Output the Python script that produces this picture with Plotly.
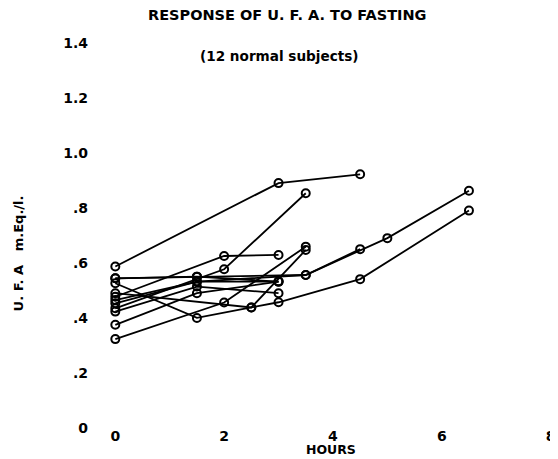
import plotly.graph_objects as go

# Hours and U.F.A. values (mEq/l) for each of the 12 subjects
hours_s1 = [0, 3, 4.5]
ufa_s1 = [0.587, 0.89, 0.922]
hours_s2 = [0, 2, 3.5]
ufa_s2 = [0.435, 0.577, 0.853]
hours_s3 = [0, 2, 3.5]
ufa_s3 = [0.323, 0.456, 0.659]
hours_s4 = [0, 2, 3]
ufa_s4 = [0.477, 0.625, 0.629]
hours_s5 = [0, 1.5, 3.5, 5, 6.5]
ufa_s5 = [0.544, 0.55, 0.556, 0.69, 0.862]
hours_s6 = [0, 1.5, 2.5, 3, 4.5, 6.5]
ufa_s6 = [0.526, 0.40, 0.438, 0.457, 0.541, 0.79]
hours_s7 = [0, 1.5, 3]
ufa_s7 = [0.375, 0.49, 0.532]
hours_s8 = [0, 1.5, 3.5, 4.5]
ufa_s8 = [0.465, 0.532, 0.556, 0.65]
hours_s9 = [0, 2.5, 3.5]
ufa_s9 = [0.49, 0.438, 0.647]
hours_s10 = [0, 1.5, 3]
ufa_s10 = [0.453, 0.532, 0.532]
hours_s11 = [0, 1.5, 3]
ufa_s11 = [0.423, 0.514, 0.49]
hours_s12 = [0, 1.5, 3]
ufa_s12 = [0.544, 0.55, 0.532]

subjects = [
    (hours_s1, ufa_s1), (hours_s2, ufa_s2), (hours_s3, ufa_s3),
    (hours_s4, ufa_s4), (hours_s5, ufa_s5), (hours_s6, ufa_s6),
    (hours_s7, ufa_s7), (hours_s8, ufa_s8), (hours_s9, ufa_s9),
    (hours_s10, ufa_s10), (hours_s11, ufa_s11), (hours_s12, ufa_s12),
]

x_ticks = [0, 2, 4, 6, 8]
y_ticks = [0, 0.2, 0.4, 0.6, 0.8, 1.0, 1.2, 1.4]
y_tick_labels = ["0", ".2", ".4", ".6", ".8", "1.0", "1.2", "1.4"]

FONT = "DejaVu Sans, Liberation Sans, sans-serif"

fig = go.Figure()
for hrs, vals in subjects:
    fig.add_trace(go.Scatter(
        x=hrs, y=vals, mode="lines+markers",
        line=dict(color="black", width=1.8),
        marker=dict(symbol="circle-open", size=8, color="black",
                    line=dict(width=2, color="black")),
        showlegend=False, hoverinfo="x+y",
    ))

# page offset of 8px from the default body margin is compensated here
OFF = 8
FW, FH = 558 - OFF, 459 - OFF
L, W, T, H = 98.65, 457.8, 29.25, 398.75  # plot area in page pixels

def px(xp):
    return (xp - L) / W

def py(yp):
    return (T + H - yp) / H

fig.update_layout(
    width=FW, height=FH,
    margin=dict(l=L - OFF, r=FW - (L - OFF) - W, t=T - OFF, b=FH - (T - OFF) - H, pad=0),
    paper_bgcolor="white", plot_bgcolor="white",
    font=dict(family=FONT, color="black", size=14),
    xaxis=dict(range=[-0.3, 8.1], tickvals=x_ticks,
               ticktext=[str(v) for v in x_ticks],
               showgrid=False, zeroline=False, showline=False, ticks="",
               ticklabeloverflow="allow", ticklabelstandoff=-2,
               tickfont=dict(size=14, family=FONT, weight="bold")),
    yaxis=dict(range=[0, 1.45], tickvals=y_ticks, ticktext=y_tick_labels,
               showgrid=False, zeroline=False, showline=False, ticks="",
               ticklabelstandoff=10,
               tickfont=dict(size=14, family=FONT, weight="bold")),
    annotations=[
        dict(text="<b>RESPONSE OF U. F. A. TO FASTING</b>", xref="paper", yref="paper",
             x=px(287), y=py(15), xanchor="center", yanchor="middle",
             showarrow=False, font=dict(size=14.5)),
        dict(text="<b>(12 normal subjects)</b>", xref="paper", yref="paper",
             x=px(279), y=py(56), xanchor="center", yanchor="middle",
             showarrow=False, font=dict(size=13.6)),
        dict(text="<b>HOURS</b>", xref="paper", yref="paper",
             x=px(331), y=py(449), xanchor="center", yanchor="middle",
             showarrow=False, font=dict(size=12.5)),
        dict(text="<b>U. F. A   m.Eq./l.</b>", xref="paper", yref="paper",
             x=px(18), y=py(253), xanchor="center", yanchor="middle",
             showarrow=False, textangle=-90, font=dict(size=13)),
    ],
)

fig.write_html("out.html")
